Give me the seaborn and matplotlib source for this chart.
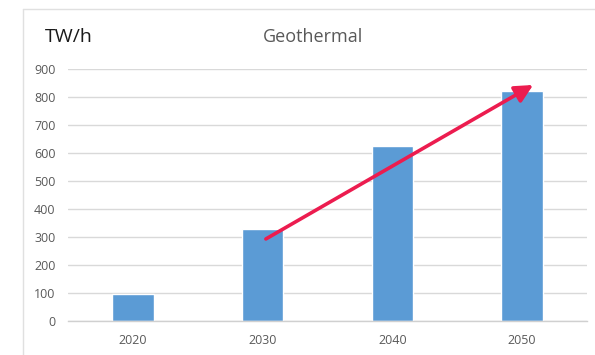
import matplotlib
matplotlib.use("Agg")
import matplotlib.pyplot as plt
import seaborn as sns
from matplotlib.lines import Line2D

years = ["2020", "2030", "2040", "2050"]
values = [95, 330, 625, 820]
y_ticks = [0, 100, 200, 300, 400, 500, 600, 700, 800, 900]
title = "Geothermal"
unit = "TW/h"

# trend arrow, in (category index, value)
arrow_start = (1.025, 293)
arrow_end = (3.085, 843)

sns.set_theme(style="white")
plt.rcParams["font.family"] = ["Open Sans", "DejaVu Sans"]

fig = plt.figure(figsize=(5.95, 3.55), dpi=100)
ax = fig.add_axes([68 / 595, 1 - 321 / 355, 519 / 595, 252 / 355])

sns.barplot(x=years, y=values, color="#5B9BD5", saturation=1, width=0.32, ax=ax)

ax.set_xlim(-0.5, 3.5)
ax.set_ylim(0, 900)
ax.set_yticks(y_ticks)
ax.yaxis.grid(True, color="#d9d9d9", lw=1)
ax.set_axisbelow(True)
for s in ["top", "right", "left"]:
    ax.spines[s].set_visible(False)
ax.spines["bottom"].set_color("#d0d0d0")
ax.spines["bottom"].set_linewidth(1)
ax.tick_params(axis="both", length=0, labelsize=9, labelcolor="#595959")
ax.tick_params(axis="y", pad=9)
ax.tick_params(axis="x", pad=9)
ax.set_xlabel("")
ax.set_ylabel("")

ax.annotate("", xy=arrow_end, xytext=arrow_start,
            arrowprops=dict(arrowstyle="-|>", color="#EC1C4F", lw=2.6,
                            mutation_scale=27, shrinkA=0, shrinkB=0))

fig.text(313 / 595, 1 - 37 / 355, title, ha="center", va="center",
         fontsize=13, color="#595959")
fig.text(45 / 595, 1 - 37 / 355, unit, ha="left", va="center",
         fontsize=14, color="#1a1a1a")

# chart frame (only left and top edges show)
fig.add_artist(Line2D([23 / 595, 23 / 595], [0, 1 - 9 / 355], color="#e0e0e0", lw=1))
fig.add_artist(Line2D([23 / 595, 1], [1 - 9 / 355, 1 - 9 / 355], color="#e0e0e0", lw=1))

fig.savefig("out.png", dpi=100)
